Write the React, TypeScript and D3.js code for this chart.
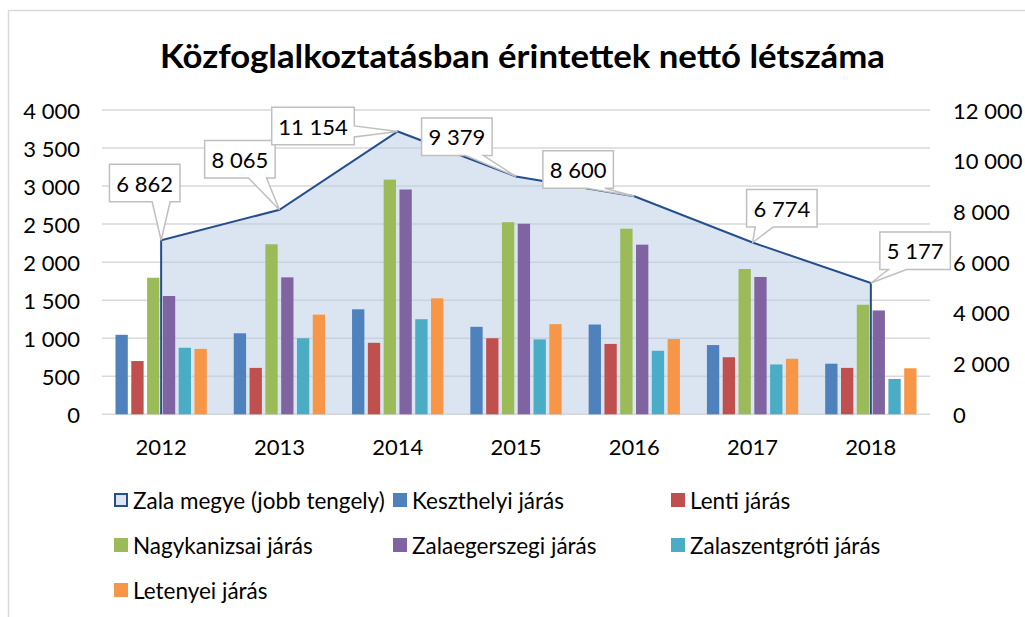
import React from 'react';
import * as d3 from 'd3';

const years = ['2012', '2013', '2014', '2015', '2016', '2017', '2018'];
const zalaMegye = [6862, 8065, 11154, 9379, 8600, 6774, 5177];
const keszthelyi = [1045, 1065, 1380, 1150, 1180, 910, 665];
const lenti = [700, 610, 940, 1000, 925, 750, 610];
const nagykanizsai = [1795, 2235, 3085, 2525, 2440, 1910, 1440];
const zalaegerszegi = [1555, 1800, 2955, 2505, 2230, 1805, 1365];
const zalaszentgroti = [875, 1000, 1250, 985, 835, 655, 465];
const letenyei = [860, 1310, 1525, 1185, 990, 730, 605];
const leftTicks = [0, 500, 1000, 1500, 2000, 2500, 3000, 3500, 4000];
const rightTicks = [0, 2000, 4000, 6000, 8000, 10000, 12000];
const barSeriesNames = ['Keszthelyi járás', 'Lenti járás', 'Nagykanizsai járás', 'Zalaegerszegi járás', 'Zalaszentgróti járás', 'Letenyei járás'];
const areaName = 'Zala megye (jobb tengely)';
const title = 'Közfoglalkoztatásban érintettek nettó létszáma';

// layout / style (not data)
const barColors = ['#4f81bd', '#c0504d', '#9bbb59', '#8064a2', '#4bacc6', '#f79646'];
const calloutOffsets: [number, number][] = [
  [-51.7, -76], [-74.8, -69.3], [-126, -24.2], [-94.4, -58.4], [-91.4, -45.4], [-6, -53], [9, -51],
];

const FONT = 'Lato, "Open Sans", sans-serif';
const W = 1025, H = 617;
const plot = { left: 102, right: 930, top: 110, bottom: 414.3 };
const FS = 22;
const LEGEND_FS = 22.5;

const locale = d3.formatLocale({ decimal: ',', thousands: ' ', grouping: [3], currency: ['', ''] });
const fmt = locale.format(',d');

export default function App() {
  const barSeries = [keszthelyi, lenti, nagykanizsai, zalaegerszegi, zalaszentgroti, letenyei];
  const x = d3.scaleBand<string>().domain(years).range([plot.left, plot.right]).padding(0);
  const bw = x.bandwidth();
  const inner = d3.scaleBand<number>().domain(d3.range(6)).range([bw * 0.114, bw * 0.886]).paddingInner(0.22);
  const yL = d3.scaleLinear().domain([0, 4000]).range([plot.bottom, plot.top]);
  const yR = d3.scaleLinear().domain([0, 12000]).range([plot.bottom, plot.top]);
  const cx = (i: number) => (x(years[i]) as number) + bw / 2;

  const areaGen = d3.area<number>().x((_, i) => cx(i)).y0(plot.bottom).y1((d) => yR(d));
  const outline = d3.line<[number, number]>();
  const outlinePts: [number, number][] = [
    [cx(0), plot.bottom],
    ...zalaMegye.map((d, i) => [cx(i), yR(d)] as [number, number]),
    [cx(zalaMegye.length - 1), plot.bottom],
  ];

  const callouts = zalaMegye.map((v, i) => {
    const label = fmt(v);
    const tx = cx(i), ty = yR(v);
    const w = 12.1 * label.length + 10;
    const h = 37.5;
    const left = tx + calloutOffsets[i][0];
    const top = ty + calloutOffsets[i][1];
    const right = left + w, bottom = top + h;
    let p: string;
    if (tx > right && ty >= top && ty <= bottom) {
      const c = Math.max(top + 0.25 * h, Math.min(ty, bottom - 0.25 * h));
      const hw = 5.5;
      p = `M${left},${top}H${right}V${c - hw}L${tx},${ty}L${right},${c + hw}V${bottom}H${left}Z`;
    } else if (tx < left && ty >= top && ty <= bottom) {
      const c = Math.max(top + 0.25 * h, Math.min(ty, bottom - 0.25 * h));
      const hw = 5.5;
      p = `M${left},${top}H${right}V${bottom}H${left}V${c + hw}L${tx},${ty}L${left},${c - hw}Z`;
    } else {
      const c = Math.max(left + 0.25 * w, Math.min(tx, right - 0.25 * w));
      const hw = 9;
      p = `M${left},${top}H${right}V${bottom}H${c + hw}L${tx},${ty}L${c - hw},${bottom}H${left}Z`;
    }
    return { label, path: p, cxText: left + w / 2, cyText: top + h / 2 };
  });

  const legendItems = [areaName, ...barSeriesNames];
  const legendCols = [114, 393, 671];
  const legendRows = [500, 545, 590];

  return (
    <svg width={W} height={H} style={{ position: 'absolute', left: 0, top: 0, background: '#fff' }} fontFamily={FONT}>
      <rect x={8.5} y={10.5} width={1100} height={700} fill="#fff" stroke="#d9d9d9" strokeWidth={1.5} />
      <text x={160} y={68} fontSize={32} fontWeight="bold" textLength={725} lengthAdjust="spacingAndGlyphs" fill="#000">{title}</text>

      {leftTicks.map((t) => (
        <line key={t} x1={plot.left} x2={plot.right} y1={yL(t)} y2={yL(t)} stroke="#d9d9d9" strokeWidth={1.5} />
      ))}

      <path d={areaGen(zalaMegye) || ''} fill="#b8cce4" fillOpacity={0.5} />

      {barSeries.map((s, si) =>
        s.map((v, i) => (
          <rect key={`${si}-${i}`} x={(x(years[i]) as number) + (inner(si) as number)} y={yL(v)} width={inner.bandwidth()} height={plot.bottom - yL(v)} fill={barColors[si]} />
        ))
      )}

      <path d={outline(outlinePts) || ''} fill="none" stroke="#254e8c" strokeWidth={2} />

      {callouts.map((c, i) => (
        <g key={i}>
          <path d={c.path} fill="#fff" stroke="#bfbfbf" strokeWidth={1.5} />
          <text x={c.cxText} y={c.cyText} textAnchor="middle" dominantBaseline="central" fontSize={FS} fill="#000">{c.label}</text>
        </g>
      ))}

      {leftTicks.map((t) => (
        <text key={t} x={80} y={yL(t)} textAnchor="end" dominantBaseline="central" fontSize={FS} fill="#000">{fmt(t)}</text>
      ))}
      {rightTicks.map((t) => (
        <text key={t} x={953} y={yR(t)} textAnchor="start" dominantBaseline="central" fontSize={FS} fill="#000">{fmt(t)}</text>
      ))}
      {years.map((yv, i) => (
        <text key={yv} x={cx(i)} y={446} textAnchor="middle" dominantBaseline="central" fontSize={FS} fill="#000">{yv}</text>
      ))}

      {legendItems.map((name, k) => {
        const lx = legendCols[k % 3];
        const ly = legendRows[Math.floor(k / 3)];
        return (
          <g key={name}>
            {k === 0 ? (
              <rect x={lx + 1} y={ly - 6} width={12} height={12} fill="#dce6f2" stroke="#254e8c" strokeWidth={2} />
            ) : (
              <rect x={lx} y={ly - 7} width={14} height={14} fill={barColors[k - 1]} />
            )}
            <text x={lx + 19} y={ly} dominantBaseline="central" fontSize={LEGEND_FS} fill="#000">{name}</text>
          </g>
        );
      })}
    </svg>
  );
}
